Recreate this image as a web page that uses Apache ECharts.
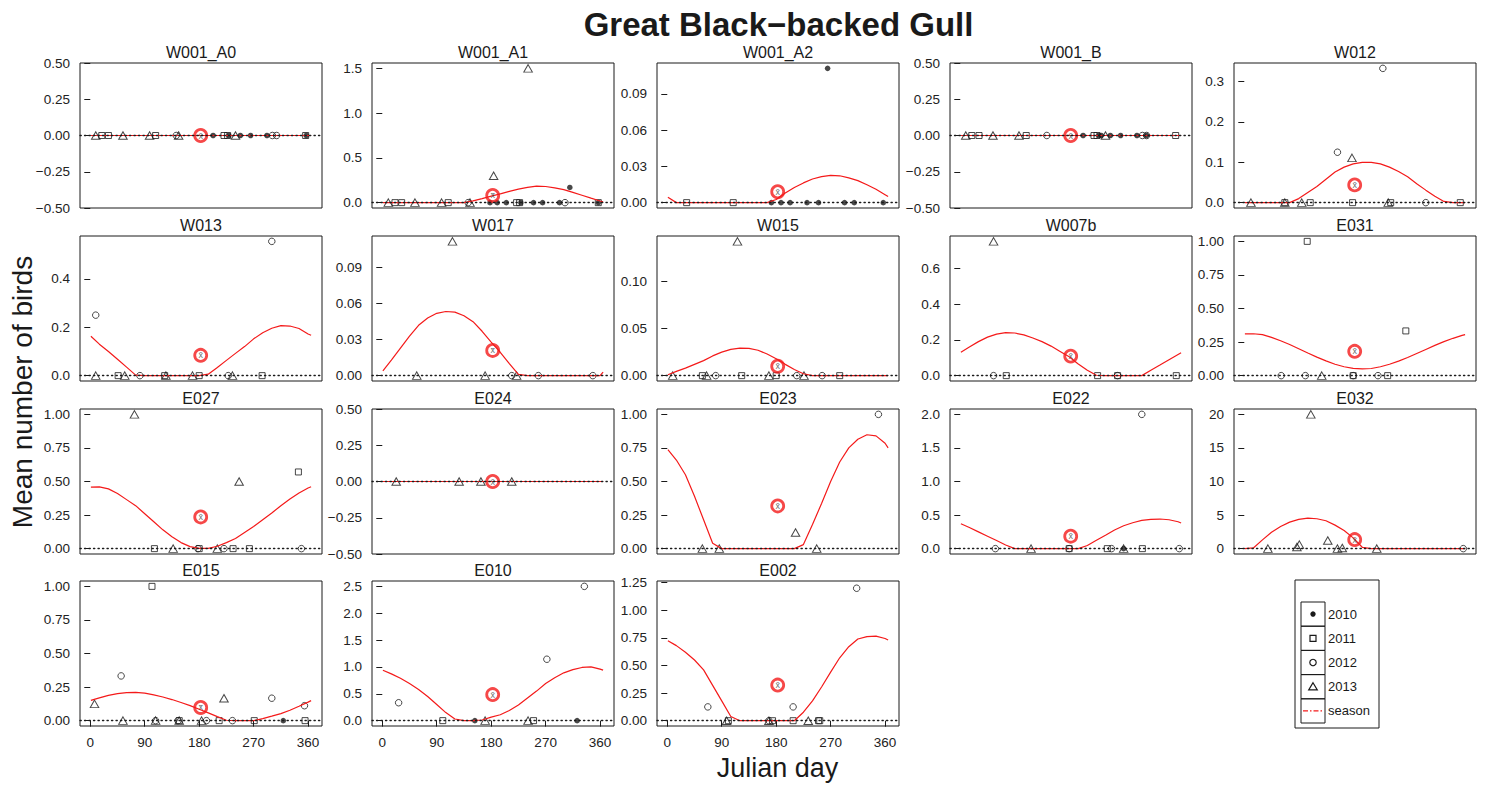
<!DOCTYPE html>
<html><head><meta charset="utf-8">
<script src="https://cdn.jsdelivr.net/npm/echarts@6/dist/echarts.min.js"></script>
<style>html,body{margin:0;padding:0;background:#fff}#c{width:1491px;height:787px}</style>
</head><body><div id="c"></div>
<script>
// ---------------- DATA ----------------
const MAIN_TITLE = 'Great Black\u2212backed Gull';
const Y_TITLE = 'Mean number of birds';
const X_TITLE = 'Julian day';
const LEGEND_LABELS = ['2010', '2011', '2012', '2013', 'season'];

const SITES = ['W001_A0','W001_A1','W001_A2','W001_B','W012',
               'W013','W017','W015','W007b','E031',
               'E027','E024','E023','E022','E032',
               'E015','E010','E002'];

const X_TICKS = [0, 90, 180, 270, 360];
const Y_TICKS = [
  ['\u22120.50','\u22120.25','0.00','0.25','0.50'],
  ['0.0','0.5','1.0','1.5'],
  ['0.00','0.03','0.06','0.09'],
  ['\u22120.50','\u22120.25','0.00','0.25','0.50'],
  ['0.0','0.1','0.2','0.3'],
  ['0.0','0.2','0.4'],
  ['0.00','0.03','0.06','0.09'],
  ['0.00','0.05','0.10'],
  ['0.0','0.2','0.4','0.6'],
  ['0.00','0.25','0.50','0.75','1.00'],
  ['0.00','0.25','0.50','0.75','1.00'],
  ['\u22120.50','\u22120.25','0.00','0.25','0.50'],
  ['0.00','0.25','0.50','0.75','1.00'],
  ['0.0','0.5','1.0','1.5','2.0'],
  ['0','5','10','15','20'],
  ['0.00','0.25','0.50','0.75','1.00'],
  ['0.0','0.5','1.0','1.5','2.0','2.5'],
  ['0.00','0.25','0.50','0.75','1.00','1.25']
];

// [julian day, mean number of birds]
const PTS_2010 = [
  [[203,0],[229,0],[248,0],[265,0],[292,0],[357,0]],
  [[178,0],[190,0],[205,0],[229,0],[250,0],[265,0],[293,0],[310,0.17],[357,0]],
  [[172,0],[188,0],[203,0],[231,0],[250,0],[265,0.111],[293,0],[309,0],[357,0]],
  [[203,0],[229,0],[233,0],[248,0],[265,0],[292,0],[308,0]],
  [], [], [], [], [], [],
  [], [], [],
  [[270,0]],
  [],
  [[319,0]],
  [[153,0],[322,0]],
  []
];
const PTS_2011 = [
  [[19,0],[30,0],[108,0],[221,0],[227,0],[356,0]],
  [[21,0],[32,0],[109,0],[222,0],[227,0],[357,0]],
  [[32,0],[109,0]],
  [[19,0],[31,0],[109,0],[221,0],[226,0],[356,0]],
  [[67,0],[109,0],[179,0],[242,0],[357,0]],
  [[46,0],[123,0],[180,0],[284,0]],
  [],
  [[58,0],[123,0],[180,0],[285,0]],
  [[76,0],[227,0],[260,0],[357,0]],
  [[104,1.0],[180,0],[237,0],[267,0.333]],
  [[106,0],[180,0],[236,0],[263,0],[344,0.571]],
  [],
  [],
  [[180,0],[243,0],[301,0]],
  [],
  [[102,1.0],[147,0],[213,0],[271,0],[355,0]],
  [[100,0],[250,0]],
  [[101,0],[174,0],[208,0],[250,0],[252,0]]
];
const PTS_2012 = [
  [[142,0],[301,0],[308,0]],
  [[142,0],[302,0]],
  [],
  [[143,0],[301,0],[308,0]],
  [[154,0.125],[229,0.333],[300,0]],
  [[9,0.25],[82,0],[228,0],[300,0.555]],
  [[214,0],[258,0],[348,0]],
  [[80,0],[214,0],[256,0]],
  [[55,0],[260,0]],
  [[61,0],[101,0],[180,0],[221,0]],
  [[178,0],[221,0],[349,0]],
  [],
  [[349,1.0]],
  [[58,0],[180,0],[250,0],[300,2.0],[362,0]],
  [[362,0]],
  [[51,0.333],[108,0],[145,0],[192,0],[235,0],[300,0.167],[354,0.111]],
  [[27,0.333],[272,1.143],[334,2.5]],
  [[67,0.125],[168,0],[208,0.125],[313,1.2]]
];
const PTS_2013 = [
  [[9,0],[54,0],[98,0],[146,0],[240,0]],
  [[10,0],[54,0],[98,0],[145,0],[184,0.3],[241,1.5]],
  [],
  [[9,0],[54,0],[97,0],[240,0]],
  [[11,0],[67,0],[95,0],[178,0.111],[238,0]],
  [[9,0],[57,0],[125,0],[169,0],[235,0]],
  [[57,0],[116,0.112],[170,0],[222,0]],
  [[9,0],[65,0],[116,0.143],[168,0],[226,0]],
  [[55,0.75]],
  [[128,0]],
  [[73,1.0],[137,0],[210,0],[246,0.5]],
  [[23,0],[127,0],[163,0],[214,0]],
  [[58,0],[86,0],[212,0.12],[247,0]],
  [[117,0],[270,0]],
  [[39,0],[87,0.25],[91,0.6],[110,20],[138,1.2],[154,0],[162,0.1],[219,0]],
  [[7,0.125],[54,0],[108,0],[147,0],[184,0],[221,0.167]],
  [[170,0],[241,0]],
  [[98,0],[168,0],[233,0]]
];

const MEAN_DAY = 182.5;
const MEANS = [0, 0.08, 0.009, 0, 0.044,
               0.084, 0.021, 0.01, 0.109, 0.181,
               0.236, 0, 0.318, 0.185, 1.35,
               0.098, 0.485, 0.323];

const SEASON_DAYS = [1,15,30,45,60,75,90,105,120,135,150,165,180,195,210,225,240,255,270,285,300,315,330,345,360,365];
const SEASON = [
  [0,0,0,0,0,0,0,0,0,0,0,0,0,0,0,0,0,0,0,0,0,0,0,0,0,0],
  [0,0,0,0,0,0,0,0,0,0,0.02,0.045,0.072,0.098,0.125,0.15,0.17,0.184,0.18,0.165,0.145,0.115,0.083,0.05,0.018,0.008],
  [0.0045,0,0,0,0,0,0,0,0,0,0,0,0.0026,0.0079,0.0125,0.0163,0.0195,0.0215,0.0225,0.0222,0.0205,0.0182,0.0148,0.011,0.0065,0.005],
  [0,0,0,0,0,0,0,0,0,0,0,0,0,0,0,0,0,0,0,0,0,0,0,0,0,0],
  [0,0,0,0,0,0,0.01,0.025,0.04,0.058,0.076,0.088,0.096,0.1,0.1,0.096,0.088,0.077,0.064,0.047,0.031,0.016,0.003,0,0,0],
  [0.163,0.13,0.1,0.068,0.035,0.002,0,0,0,0,0,0,0,0.006,0.034,0.063,0.092,0.12,0.152,0.177,0.196,0.207,0.205,0.195,0.172,0.167],
  [0.004,0.013,0.023,0.033,0.042,0.048,0.052,0.0535,0.053,0.05,0.045,0.037,0.028,0.0195,0.01,0.001,0,0,0,0,0,0,0,0,0,0.003],
  [0.001,0.0045,0.008,0.012,0.016,0.021,0.025,0.028,0.0293,0.029,0.027,0.023,0.018,0.012,0.0065,0.002,0,0,0,0,0,0,0,0,0,0],
  [0.131,0.16,0.19,0.215,0.232,0.24,0.238,0.228,0.21,0.19,0.165,0.135,0.105,0.065,0.03,0.002,0,0,0,0,0,0.03,0.059,0.089,0.118,0.1275],
  [0.311,0.312,0.305,0.285,0.26,0.232,0.2,0.168,0.138,0.11,0.085,0.066,0.054,0.05,0.053,0.066,0.085,0.108,0.135,0.165,0.195,0.225,0.253,0.278,0.3,0.306],
  [0.458,0.46,0.445,0.41,0.365,0.32,0.26,0.2,0.14,0.088,0.045,0.015,0.002,0.002,0.018,0.045,0.075,0.12,0.165,0.215,0.265,0.32,0.37,0.415,0.452,0.461],
  [0,0,0,0,0,0,0,0,0,0,0,0,0,0,0,0,0,0,0,0,0,0,0,0,0,0],
  [0.737,0.66,0.55,0.39,0.215,0.04,0,0,0,0,0,0,0,0,0,0.03,0.18,0.336,0.5,0.645,0.75,0.815,0.848,0.84,0.785,0.75],
  [0.371,0.315,0.25,0.185,0.12,0.055,0,0,0,0,0,0,0,0,0.047,0.124,0.2,0.278,0.34,0.385,0.42,0.437,0.441,0.43,0.4,0.381],
  [0,0.1,1.3,2.45,3.3,3.95,4.35,4.55,4.45,4.15,3.5,2.7,1.6,0.2,0,0,0,0,0,0,0,0,0,0,0,0],
  [0.151,0.17,0.188,0.201,0.209,0.211,0.205,0.192,0.176,0.157,0.135,0.112,0.085,0.058,0.03,0.003,0,0,0,0.015,0.033,0.052,0.077,0.107,0.138,0.149],
  [0.938,0.87,0.79,0.69,0.58,0.45,0.3,0.15,0.03,0,0,0.012,0.064,0.11,0.19,0.29,0.42,0.55,0.69,0.8,0.89,0.95,0.99,1.0,0.96,0.94],
  [0.725,0.68,0.62,0.55,0.46,0.32,0.18,0.038,0,0,0,0,0,0,0,0.077,0.18,0.305,0.44,0.57,0.67,0.74,0.762,0.766,0.745,0.731]
];

// ---------------- LAYOUT / STYLE ----------------
const COL_LEFT = [80, 372, 657, 950, 1234];
const ROW_TOP = [63, 236, 409, 581];
const PW = 242, PH = 145;
const X_MIN = -17, X_MAX = 383;
const FONT = '"Liberation Sans", Arial, Helvetica, sans-serif';
const INK = '#1a1a1a';
const RED = '#f41a1a';
const CLEAR = 'rgba(0,0,0,0)';

const YEAR_SETS = [PTS_2010, PTS_2011, PTS_2012, PTS_2013];
const YEAR_STYLE = [
  {symbol: 'circle', symbolSize: 5.5, itemStyle: {color: INK, borderWidth: 0}},
  {symbol: 'rect', symbolSize: 6, itemStyle: {color: CLEAR, borderColor: INK, borderWidth: 1}},
  {symbol: 'circle', symbolSize: 6.5, itemStyle: {color: CLEAR, borderColor: INK, borderWidth: 1}},
  {symbol: 'triangle', symbolSize: [8.5, 7.5], itemStyle: {color: CLEAR, borderColor: INK, borderWidth: 1}}
];

const parseTick = t => parseFloat(t.replace('\u2212', '-'));

const grids = [], xAxes = [], yAxes = [], series = [], graphics = [];

SITES.forEach((name, i) => {
  const col = i % 5, row = Math.floor(i / 5);
  const left = COL_LEFT[col], top = ROW_TOP[row];
  const isBottom = (row === 3);

  const tickStr = Y_TICKS[i];
  const tickVal = tickStr.map(parseTick);

  let M = MEANS[i];
  YEAR_SETS.forEach(s => s[i].forEach(p => { M = Math.max(M, p[1]); }));
  SEASON[i].forEach(v => { M = Math.max(M, v); });
  const lo = M > 0 ? -0.04 * M : -0.5;
  let hi = M > 0 ? 1.04 * M : 0.5;
  const lastTick = tickVal[tickVal.length - 1];
  if (hi < lastTick) hi = lastTick + 0.012 * (hi - lo);

  grids.push({left: left, top: top, width: PW, height: PH, show: true,
    borderColor: INK, borderWidth: 1, backgroundColor: CLEAR,
    containLabel: false, outerBoundsMode: 'none'});

  xAxes.push({gridIndex: i, type: 'value', min: X_MIN, max: X_MAX,
    axisLine: {show: false}, splitLine: {show: false},
    axisTick: {show: isBottom, customValues: X_TICKS, length: 6, lineStyle: {color: INK, width: 1}},
    axisLabel: {show: isBottom, customValues: X_TICKS, margin: 9.5, fontSize: 13.5,
      fontFamily: FONT, color: '#222'}});

  yAxes.push({gridIndex: i, type: 'value', min: lo, max: hi,
    axisLine: {show: false}, splitLine: {show: false},
    axisTick: {show: true, customValues: tickVal, length: 6, lineStyle: {color: INK, width: 1}},
    axisLabel: {show: true, customValues: tickVal, margin: 10, fontSize: 13.5,
      fontFamily: FONT, color: '#222',
      formatter: v => {
        const k = tickVal.findIndex(t => Math.abs(t - v) < 1e-9);
        return k >= 0 ? tickStr[k] : '';
      }}});

  // dotted zero reference line
  series.push({type: 'line', xAxisIndex: i, yAxisIndex: i, data: [], z: 1, silent: true,
    markLine: {silent: true, symbol: 'none', animation: false, label: {show: false},
      lineStyle: {color: INK, type: [1.3, 3.2], width: 1.3, cap: 'round'},
      emphasis: {disabled: true},
      data: [{yAxis: 0}]}});

  YEAR_SETS.forEach((set, y) => {
    const st = YEAR_STYLE[y];
    series.push({type: 'scatter', xAxisIndex: i, yAxisIndex: i, z: 2, silent: true,
      symbol: st.symbol, symbolSize: st.symbolSize, itemStyle: st.itemStyle,
      data: set[i]});
  });

  series.push({type: 'line', xAxisIndex: i, yAxisIndex: i, z: 3, silent: true,
    showSymbol: false, symbol: 'none',
    lineStyle: {color: RED, width: 1.2},
    data: SEASON_DAYS.map((d, k) => [d, SEASON[i][k]])});

  series.push({type: 'scatter', xAxisIndex: i, yAxisIndex: i, z: 4, silent: true,
    symbol: 'circle', symbolSize: 12,
    itemStyle: {color: CLEAR, borderColor: RED, borderWidth: 2.8},
    label: {show: true, position: 'inside', formatter: 'x\u0304', fontSize: 9,
      fontFamily: FONT, color: '#444'},
    data: [[MEAN_DAY, MEANS[i]]]});

  graphics.push({type: 'text', x: left + PW / 2, y: top - 11, z: 10,
    style: {text: name, font: '16px ' + FONT, fill: INK,
      textAlign: 'center', textVerticalAlign: 'middle'}});
});

// overall titles
graphics.push({type: 'text', x: 778.5, y: 24, z: 10,
  style: {text: MAIN_TITLE, font: 'bold 33px ' + FONT, fill: INK,
    textAlign: 'center', textVerticalAlign: 'middle'}});
graphics.push({type: 'text', x: 777.5, y: 768, z: 10,
  style: {text: X_TITLE, font: '27px ' + FONT, fill: INK,
    textAlign: 'center', textVerticalAlign: 'middle'}});
graphics.push({type: 'text', x: 22, y: 392, rotation: Math.PI / 2, z: 10,
  style: {text: Y_TITLE, font: '28px ' + FONT, fill: INK,
    textAlign: 'center', textVerticalAlign: 'middle'}});

// legend box
const LG = {x: 1295, y: 580, w: 84, h: 148, cx: 1301, cw: 24, ry: 602, rh: 24.2};
graphics.push({type: 'rect', z: 10, shape: {x: LG.x, y: LG.y, width: LG.w, height: LG.h},
  style: {fill: '#fff', stroke: INK, lineWidth: 1}});
LEGEND_LABELS.forEach((lab, k) => {
  const ry = LG.ry + k * LG.rh;
  const cy = ry + LG.rh / 2;
  const cx = LG.cx + LG.cw / 2;
  graphics.push({type: 'rect', z: 11, shape: {x: LG.cx, y: ry, width: LG.cw, height: LG.rh},
    style: {fill: CLEAR, stroke: INK, lineWidth: 1}});
  graphics.push({type: 'text', x: LG.cx + LG.cw + 3, y: cy, z: 11,
    style: {text: lab, font: '13px ' + FONT, fill: INK, textAlign: 'left', textVerticalAlign: 'middle'}});
  if (k === 0) graphics.push({type: 'circle', z: 12, shape: {cx: cx, cy: cy, r: 2.7}, style: {fill: INK}});
  if (k === 1) graphics.push({type: 'rect', z: 12, shape: {x: cx - 3, y: cy - 3, width: 6, height: 6},
    style: {fill: CLEAR, stroke: INK, lineWidth: 1.2}});
  if (k === 2) graphics.push({type: 'circle', z: 12, shape: {cx: cx, cy: cy, r: 3.2},
    style: {fill: CLEAR, stroke: INK, lineWidth: 1.2}});
  if (k === 3) graphics.push({type: 'polygon', z: 12,
    shape: {points: [[cx, cy - 4], [cx + 4.3, cy + 3.2], [cx - 4.3, cy + 3.2]]},
    style: {fill: CLEAR, stroke: INK, lineWidth: 1.2}});
  if (k === 4) graphics.push({type: 'line', z: 12, shape: {x1: LG.cx + 2, y1: cy, x2: LG.cx + LG.cw - 2, y2: cy},
    style: {stroke: RED, lineWidth: 1.2, lineDash: [5, 2, 1.5, 2]}});
});

const chart = echarts.init(document.getElementById('c'), null, {renderer: 'svg', width: 1491, height: 787});
chart.setOption({
  animation: false,
  backgroundColor: '#fff',
  textStyle: {fontFamily: FONT},
  grid: grids, xAxis: xAxes, yAxis: yAxes, series: series,
  graphic: {elements: graphics}
});
</script>
</body></html>
